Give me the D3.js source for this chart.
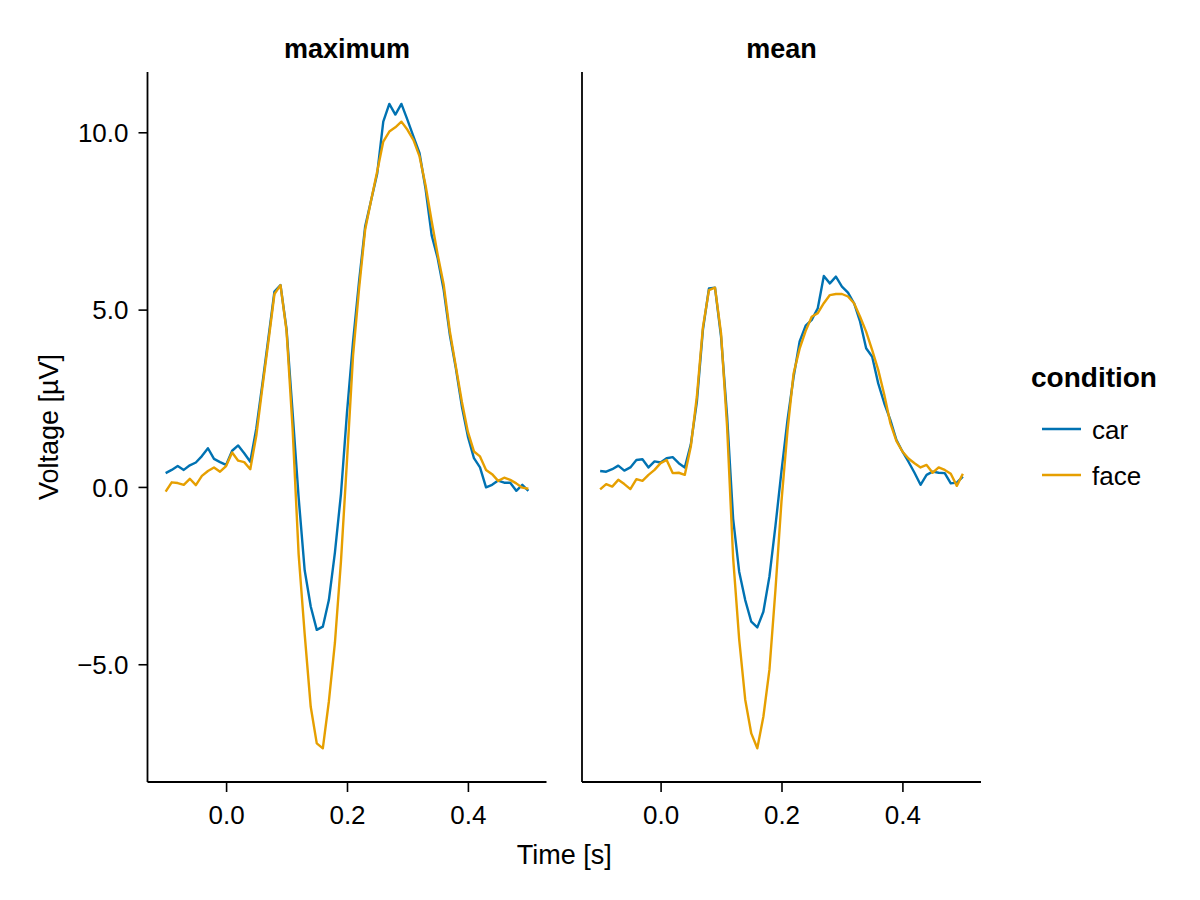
<!DOCTYPE html>
<html>
<head>
<meta charset="utf-8">
<script src="https://cdn.jsdelivr.net/npm/d3@7"></script>
<style>
  body { margin: 0; background: #fff; }
  text { font-family: "Liberation Sans", Arial, Helvetica, sans-serif; fill: #000; }
</style>
</head>
<body>
<div id="chart"></div>
<script>
var times = [-0.10, -0.09, -0.08, -0.07, -0.06, -0.05, -0.04, -0.03, -0.02, -0.01,
    0.00, 0.01, 0.02, 0.03, 0.04, 0.05, 0.06, 0.07, 0.08, 0.09,
    0.10, 0.11, 0.12, 0.13, 0.14, 0.15, 0.16, 0.17, 0.18, 0.19,
    0.20, 0.21, 0.22, 0.23, 0.24, 0.25, 0.26, 0.27, 0.28, 0.29,
    0.30, 0.31, 0.32, 0.33, 0.34, 0.35, 0.36, 0.37, 0.38, 0.39,
    0.40, 0.41, 0.42, 0.43, 0.44, 0.45, 0.46, 0.47, 0.48, 0.49, 0.50];

var panels = ["maximum", "mean"];
var conditions = ["car", "face"];

var maxCar = [0.39, 0.48, 0.59, 0.48, 0.61, 0.69, 0.87, 1.09, 0.79, 0.70,
    0.62, 1.02, 1.17, 0.95, 0.71, 1.65, 2.90, 4.20, 5.51, 5.69,
    4.45, 2.10, -0.30, -2.35, -3.37, -4.03, -3.94, -3.19, -1.85, -0.20,
    2.10, 4.10, 5.80, 7.34, 8.09, 8.84, 10.30, 10.80, 10.50, 10.80,
    10.35, 9.88, 9.41, 8.40, 7.10, 6.45, 5.55, 4.30, 3.35, 2.27,
    1.42, 0.81, 0.55, -0.01, 0.06, 0.18, 0.12, 0.12, -0.11, 0.06, -0.11];

var maxFace = [-0.13, 0.13, 0.11, 0.06, 0.23, 0.05, 0.31, 0.45, 0.55, 0.43,
    0.59, 0.97, 0.74, 0.70, 0.50, 1.45, 2.80, 4.10, 5.44, 5.69,
    4.40, 1.65, -1.90, -4.15, -6.20, -7.23, -7.37, -6.05, -4.40, -2.10,
    0.75, 3.70, 5.60, 7.25, 8.09, 8.90, 9.74, 10.02, 10.14, 10.30,
    10.07, 9.78, 9.32, 8.50, 7.50, 6.55, 5.70, 4.40, 3.40, 2.40,
    1.55, 1.00, 0.86, 0.48, 0.36, 0.17, 0.26, 0.20, 0.10, -0.02, -0.05];

var meanCar = [0.45, 0.43, 0.50, 0.60, 0.46, 0.55, 0.76, 0.78, 0.55, 0.72,
    0.69, 0.81, 0.84, 0.67, 0.55, 1.20, 2.40, 4.43, 5.60, 5.62,
    4.24, 2.00, -0.90, -2.39, -3.19, -3.80, -3.96, -3.52, -2.53, -1.10,
    0.45, 1.90, 3.10, 4.10, 4.55, 4.71, 5.04, 5.95, 5.74, 5.93,
    5.65, 5.48, 5.18, 4.66, 3.91, 3.67, 2.92, 2.36, 1.89, 1.33,
    1.00, 0.71, 0.40, 0.06, 0.34, 0.43, 0.40, 0.39, 0.10, 0.12, 0.29];

var meanFace = [-0.07, 0.08, 0.01, 0.20, 0.08, -0.06, 0.22, 0.17, 0.34, 0.48,
    0.67, 0.76, 0.39, 0.40, 0.34, 1.14, 2.55, 4.50, 5.55, 5.62,
    4.33, 1.70, -2.00, -4.30, -6.00, -6.95, -7.37, -6.48, -5.16, -2.90,
    -0.40, 1.60, 3.20, 3.90, 4.40, 4.80, 4.90, 5.18, 5.41, 5.44,
    5.44, 5.37, 5.18, 4.80, 4.38, 3.86, 3.30, 2.60, 1.80, 1.30,
    1.00, 0.80, 0.67, 0.55, 0.62, 0.40, 0.55, 0.48, 0.37, 0.03, 0.37];

var xTicks = [0.0, 0.2, 0.4];
var yTicks = [-5, 0, 5, 10];

var series = {
    maximum: {car: maxCar, face: maxFace},
    mean: {car: meanCar, face: meanFace}
};
var colors = {car: "#0072B2", face: "#E69F00"};

var svg = d3.select("#chart").append("svg")
    .attr("width", 1200)
    .attr("height", 900);

var panelLeft = [147.5, 582],
    panelWidth = 399,
    plotTop = 72, plotBottom = 782;

var y = d3.scaleLinear().domain([-8.32, 11.70]).range([plotBottom, plotTop]);

var fmt = d3.format(".1f");

panels.forEach(function(name, i) {
    var x = d3.scaleLinear()
        .domain([-0.13, 0.53])
        .range([panelLeft[i], panelLeft[i] + panelWidth]);

    var g = svg.append("g");

    // lines
    conditions.forEach(function(c) {
        var vals = series[name][c];
        var line = d3.line()
            .x(function(d, k) { return x(times[k]); })
            .y(function(d) { return y(d); });
        g.append("path")
            .datum(vals)
            .attr("fill", "none")
            .attr("stroke", colors[c])
            .attr("stroke-width", 2.4)
            .attr("stroke-linejoin", "round")
            .attr("d", line);
    });

    // x axis
    var xAxis = d3.axisBottom(x)
        .tickValues(xTicks)
        .tickSize(10)
        .tickFormat(fmt);
    var gx = g.append("g")
        .attr("transform", "translate(0," + plotBottom + ")")
        .call(xAxis);
    gx.select(".domain").attr("d", "M" + x.range()[0] + ",0H" + x.range()[1])
        .attr("stroke", "#000").attr("stroke-width", 1.8);
    gx.selectAll(".tick line").attr("stroke", "#000").attr("stroke-width", 1.6);
    gx.selectAll(".tick text")
        .attr("y", 42)
        .attr("dy", null)
        .style("font-size", "26px");

    // y axis
    var yAxis = d3.axisLeft(y)
        .tickValues(yTicks)
        .tickSize(i == 0 ? 9 : 0)
        .tickFormat(fmt);
    var gy = g.append("g")
        .attr("transform", "translate(" + panelLeft[i] + ",0)")
        .call(yAxis);
    gy.select(".domain").attr("d", "M0," + plotTop + "V" + plotBottom)
        .attr("stroke", "#000").attr("stroke-width", 1.8);
    gy.selectAll(".tick line").attr("stroke", "#000").attr("stroke-width", 1.6);
    if (i == 0) {
        gy.selectAll(".tick text")
            .attr("x", -19)
            .attr("dy", "0.35em")
            .style("font-size", "26px");
    } else {
        gy.selectAll(".tick text").remove();
    }

    // panel title
    svg.append("text")
        .attr("x", panelLeft[i] + panelWidth / 2)
        .attr("y", 58)
        .style("text-anchor", "middle")
        .style("font-size", "27px")
        .style("font-weight", "bold")
        .text(name);
});

svg.selectAll(".tick text").style("font-family", "'Liberation Sans', Arial, sans-serif");

// axis labels
svg.append("text")
    .attr("x", (panelLeft[0] + panelLeft[1] + panelWidth) / 2)
    .attr("y", 864)
    .style("text-anchor", "middle")
    .style("font-size", "27px")
    .text("Time [s]");

svg.append("text")
    .attr("transform", "translate(58," + ((plotTop + plotBottom) / 2) + ") rotate(-90)")
    .style("text-anchor", "middle")
    .style("font-size", "27px")
    .text("Voltage [µV]");

// legend
var legend = svg.append("g").attr("transform", "translate(1031,0)");
legend.append("text")
    .attr("x", 0)
    .attr("y", 387)
    .style("font-size", "28px")
    .style("font-weight", "bold")
    .text("condition");

conditions.forEach(function(c, k) {
    var ly = 429 + k * 46;
    legend.append("line")
        .attr("x1", 11).attr("x2", 50)
        .attr("y1", ly).attr("y2", ly)
        .attr("stroke", colors[c])
        .attr("stroke-width", 2.6);
    legend.append("text")
        .attr("x", 61)
        .attr("y", ly + 10)
        .style("font-size", "26px")
        .text(c);
});
</script>
</body>
</html>
